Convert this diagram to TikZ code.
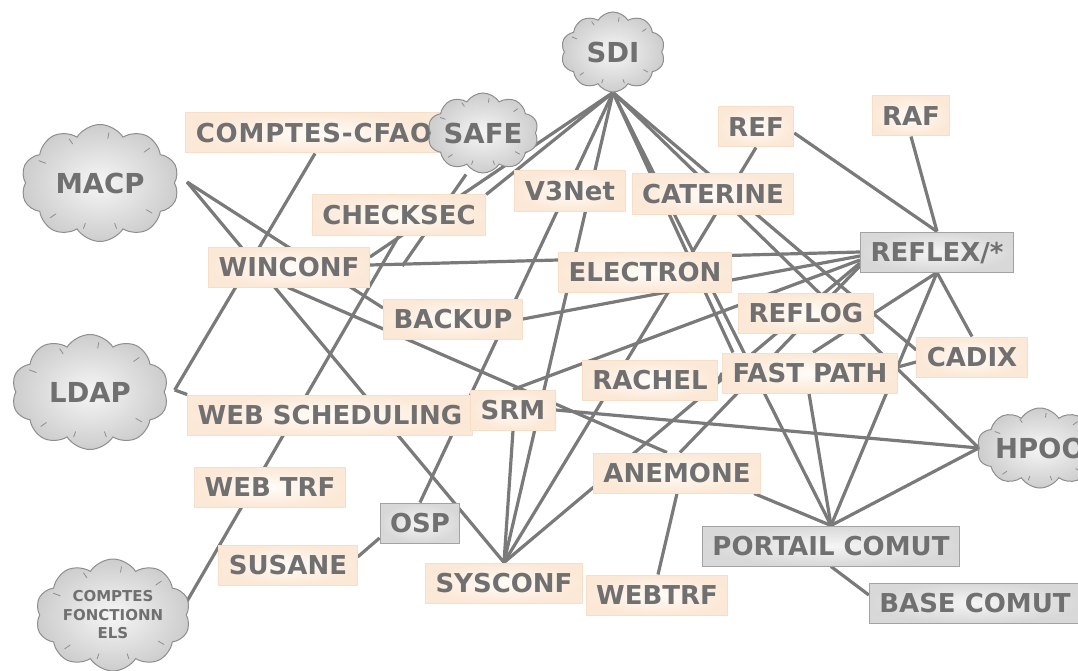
\documentclass[tikz,border=0pt]{standalone}
\usepackage{fontspec}
\setmainfont{DejaVu Sans}
\usetikzlibrary{shapes.symbols,calc}
\pgfdeclarelayer{background}
\pgfsetlayers{background,main}

\definecolor{linkgray}{HTML}{7A7A7A}
\definecolor{labelgray}{HTML}{707070}
\definecolor{peachin}{HTML}{FFFCF9}
\definecolor{peachout}{HTML}{FCE8D6}
\definecolor{peachline}{HTML}{F6DEC8}
\definecolor{greyin}{HTML}{F5F5F5}
\definecolor{greyout}{HTML}{D8D8D8}
\definecolor{greyline}{HTML}{A3A3A3}
\definecolor{cloudin}{HTML}{F6F6F6}
\definecolor{cloudout}{HTML}{CDCDCD}
\definecolor{cloudline}{HTML}{8E8E8E}

\begin{document}
\begin{tikzpicture}[x=1pt,y=-1pt,
  appbox/.style={rectangle, draw=peachline, line width=1pt,
    inner color=peachin, outer color=peachout, text=labelgray,
    font=\fontsize{26}{28}\selectfont\bfseries,
    minimum height=40pt, inner xsep=10pt, inner ysep=0pt,
    text height=19pt, text depth=0pt},
  sysbox/.style={appbox, draw=greyline, inner color=greyin, outer color=greyout},
  cloudnode/.style={cloud, cloud puffs=10, cloud puff arc=115, cloud ignores aspect,
    draw=cloudline, line width=1pt, inner color=cloudin, outer color=cloudout,
    text=labelgray, font=\fontsize{27.5}{30}\selectfont\bfseries, inner sep=0pt},
  cloudtick/.style={draw=cloudline, line width=0.8pt, line cap=round},
  link/.style={draw=linkgray, line width=3.2pt},
]
\useasboundingbox (0,0) rectangle (1078,671);
\clip (0,0) rectangle (1078,671);

% domains (clouds)
\node[cloudnode, minimum width=104pt, minimum height=80pt] (sdi) at (613,52) {SDI};
\node[cloudnode, minimum width=158pt, minimum height=117pt] (macp) at (100,183) {MACP};
\node[cloudnode, minimum width=157pt, minimum height=115pt] (ldap) at (90,392) {LDAP};
\node[cloudnode, minimum width=112pt, minimum height=80pt] (hpoo) at (1040,448) {HPOO};
\node[cloudnode, minimum width=155pt, minimum height=112pt, align=center,
      font=\fontsize{15}{18.5}\selectfont\bfseries] (comptesf) at (113,615)
      {COMPTES\\FONCTIONN\\ELS};

% applications
\node[appbox, font=\fontsize{26}{28}\selectfont\bfseries\addfontfeature{LetterSpace=3.25}]
      (cfao) at (314,133) {COMPTES-CFAO};
\node[cloudnode, minimum width=100pt, minimum height=80pt] (safe) at (483,133) {SAFE};
\node[appbox] (checksec) at (399,215) {CHECKSEC};
\node[appbox] (winconf) at (289,267) {WINCONF};
\node[appbox] (backup) at (453,319) {BACKUP};
\node[appbox] (v3net) at (570,191) {V3Net};
\node[appbox] (caterine) at (713,194) {CATERINE};
\node[appbox] (ref) at (756,127) {REF};
\node[appbox] (raf) at (911,116) {RAF};
\node[sysbox] (reflex) at (937,252) {REFLEX/*};
\node[appbox] (electron) at (645,272) {ELECTRON};
\node[appbox] (reflog) at (806,313) {REFLOG};
\node[appbox] (websched) at (330,415) {WEB SCHEDULING};
\node[appbox] (srm) at (513,410) {SRM};
\node[appbox] (rachel) at (650,380) {RACHEL};
\node[appbox] (fastpath) at (810,373) {FAST PATH};
\node[appbox] (cadix) at (972,357) {CADIX};
\node[appbox] (anemone) at (677,473) {ANEMONE};
\node[appbox] (webtrf) at (270,487) {WEB TRF};
\node[sysbox] (osp) at (420,523) {OSP};
\node[sysbox] (portail) at (831,546) {PORTAIL COMUT};
\node[appbox] (susane) at (288,565) {SUSANE};
\node[appbox] (sysconf) at (504,583) {SYSCONF};
\node[appbox] (webtrfb) at (657,595) {WEBTRF};
\node[sysbox] (basecomut) at (975,603) {BASE COMUT};

% small pen strokes inside the clouds
\foreach \c in {sdi,macp,ldap,hpoo,comptesf,safe}
  \foreach \a in {35,80,125,160,215,250,290,330}
    \draw[cloudtick] ($(\c.center)!0.78!(\c.\a)$) -- ($(\c.center)!0.88!(\c.\a)$);

% attachment points on the clouds
\coordinate (macphub) at ($(macp.east)+(12,-1)$);
\coordinate (ldaphub) at ($(ldap.east)+(10,-2)$);
\coordinate (cfhub) at ($(comptesf.center)+(73,-12)$);
\coordinate (safehub) at ($(safe.south)+(-17,1)$);
\coordinate (safeend) at ($(winconf.east)!0.066!(reflex.west)$);

% links, behind the boxes
\begin{pgfonlayer}{background}
\draw[link] (sdi.south) -- (checksec.north east);
\draw[link] (sdi.south) -- ($(winconf.east)+(0,-10)$);
\draw[link] (sdi.south) -- (osp.north);
\draw[link] (sdi.south) -- (sysconf.north);
\draw[link] (sdi.south) -- (portail.north);
\draw[link] (sdi.south) -- ($(fastpath.north)+(-77,0)$);
\draw[link] (sdi.south) -- (hpoo.west);
\draw[link] (sdi.south) -- ($(cadix.west)+(0,-7)$);
\draw[link] (cfhub) -- (checksec.south);
\draw[link] (safehub) -- (safeend);
\draw[link] ($(winconf.east)+(0,-2)$) -- (reflex.west);
\draw[link] (backup.east) -- ($(reflex.west)+(0,4)$);
\draw[link] (srm.north) -- ($(reflex.west)+(0,8)$);
\draw[link] ($(reflex.west)+(0,11)$) -- (sysconf.north);
\draw[link] ($(reflex.west)+(0,14)$) -- ($(anemone.north)+(3,0)$);
\draw[link] (anemone.south) -- ($(webtrfb.north)+(1,0)$);
\draw[link] (macphub) -- (sysconf.north);
\draw[link] (macphub) -- ($(backup.west)+(0,-11)$);
\draw[link] ($(winconf.south)+(-1,0)$) -- ($(anemone.north)+(-10,0)$);
\draw[link] ($(cfao.south)+(1,0)$) -- (ldaphub);
\draw[link] (ldaphub) -- (websched.north west);
\draw[link] (srm.south) -- (sysconf.north);
\draw[link] (ref.south) -- (sysconf.north);
\draw[link] ($(susane.east)+(0,-8)$) -- ($(osp.west)+(0,15)$);
\draw[link] (srm.east) -- (hpoo.west);
\draw[link] ($(fastpath.south)+(-1,0)$) -- (portail.north);
\draw[link] (reflex.south) -- (portail.north);
\draw[link] ($(anemone.south east)+(-7,0)$) -- (portail.north);
\draw[link] (hpoo.west) -- (portail.north);
\draw[link] (portail.south) -- ($(basecomut.west)+(0,-8)$);
\draw[link] ($(ref.east)+(0,6)$) -- (reflex.north);
\draw[link] (raf.south) -- (reflex.north);
\draw[link] (reflex.south) -- ($(fastpath.north)+(3,0)$);
\draw[link] (reflex.south) -- (cadix.north);
\draw[link] ($(fastpath.east)+(0,-6)$) -- ($(cadix.west)+(0,5)$);
\draw[link] (rachel.east) -- (fastpath.west);
\end{pgfonlayer}
\end{tikzpicture}
\end{document}
